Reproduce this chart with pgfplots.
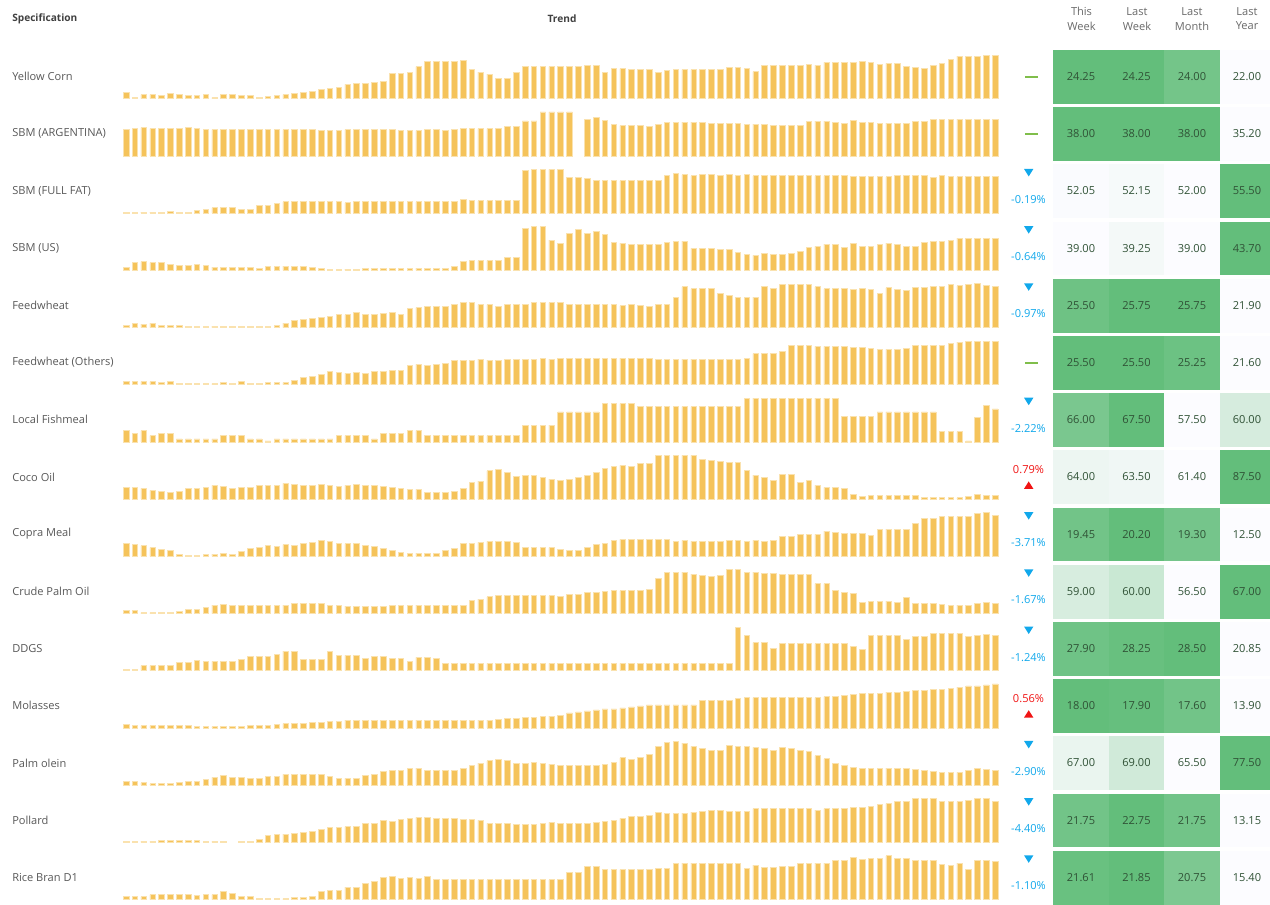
\documentclass[border=0pt]{standalone}
\usepackage{fontspec}
\setmainfont{Open Sans}
\usepackage{pgfplots}
\pgfplotsset{compat=1.18}
\usepackage{pgfplotstable}

\definecolor{barc}{RGB}{245,195,90}
\definecolor{baredge}{RGB}{250,226,175}
\definecolor{hgreen}{RGB}{99,190,123}
\definecolor{hwhite}{RGB}{252,252,255}
\definecolor{celltext}{RGB}{48,82,54}
\definecolor{labeltext}{RGB}{88,88,88}
\definecolor{headtext}{RGB}{64,64,64}
\definecolor{headgray}{RGB}{105,105,105}
\definecolor{downc}{RGB}{17,168,235}
\definecolor{upc}{RGB}{240,20,20}
\definecolor{flatc}{RGB}{128,190,75}

\newcommand\sdata[2]{\pgfplotstableread[row sep=\\]{h\\#2}#1}

% sparkline bar heights (pixels of the reference, 44 = tallest)
\sdata\tA{6\\1\\4\\4\\3\\5\\4\\3\\3\\4\\
1\\4\\4\\3\\3\\1\\2\\3\\4\\5\\
6\\7\\9\\10\\11\\14.3\\15.3\\15.3\\16.3\\17.3\\
25.3\\25.3\\26.3\\32\\37\\37\\37\\37\\38.3\\29.7\\
26.7\\24.7\\20.3\\20.3\\26.7\\32\\32\\32\\32\\32\\
32.7\\32.7\\33.7\\33.7\\26\\30\\30\\29\\29\\29\\
26\\28\\29\\29\\29\\29\\29\\29\\31.3\\31.3\\
30.3\\27\\33.3\\33.3\\33.3\\33.3\\33.3\\34.3\\33.3\\36.3\\
36.3\\36.3\\36.3\\37.3\\36.3\\34.3\\35.3\\35.3\\32.3\\31.3\\
30.3\\33.3\\35.3\\39.7\\42.7\\42.7\\42.7\\43.7\\43.7\\}
\sdata\tB{26.3\\27.3\\28.3\\27.3\\27.3\\27.3\\27.3\\28.3\\27.3\\26.3\\
26.3\\26.3\\26.3\\26.3\\26.3\\26.3\\26.3\\26.3\\26.3\\26.3\\
26.3\\26.3\\25.3\\25.3\\25.3\\26.3\\26.3\\26.3\\26.3\\26.3\\
26.3\\25.3\\25.3\\25.3\\26.3\\26.3\\25.3\\26.3\\27.3\\27.3\\
27.3\\27.3\\27.3\\29.3\\29.3\\35\\35\\44\\44\\44\\
44\\nan\\36.7\\38.7\\35.7\\31.7\\30.3\\30.3\\30.3\\29.3\\
31.7\\33.7\\33.7\\33.7\\33.7\\33.7\\32.7\\32.7\\32.7\\32.7\\
31.7\\31.7\\31.7\\30.3\\30.3\\30.3\\30.3\\34.7\\34.7\\34.7\\
33.7\\32.7\\35.7\\33.7\\33.7\\32.7\\32.7\\32.7\\32.7\\34.7\\
34.7\\36.7\\36.7\\36.7\\36.7\\36.7\\36.7\\36.7\\36.7\\}
\sdata\tC{1\\1\\1\\1\\1\\2\\1\\1\\3\\4\\
5.3\\5.3\\5.3\\4\\4\\7.3\\7.3\\9.3\\11.3\\11.3\\
11.3\\11.3\\11.3\\11.3\\11.3\\10.3\\11.3\\11.3\\11.3\\11.3\\
11.3\\11.3\\11.3\\11.3\\11.3\\11.3\\11.3\\11.3\\13.3\\12.3\\
12.3\\12.3\\12.3\\12.3\\12.3\\42.7\\43.7\\43.7\\43.7\\43.7\\
35.3\\35.3\\34.3\\32.3\\32.3\\32.3\\32.3\\32.3\\32.3\\32.3\\
32.3\\37.3\\39.3\\38.3\\37.3\\38.3\\38.3\\37.3\\38.3\\37.3\\
38.3\\37.3\\37.3\\37.3\\37.3\\37.3\\37.3\\37.3\\37.3\\37.3\\
37.3\\37.3\\36.3\\36.3\\36.3\\36.3\\36.3\\37.3\\37.3\\37.3\\
37.3\\35.3\\37.3\\36.3\\36.3\\36.3\\36.3\\36.3\\36.3\\}
\sdata\tD{3.3\\7.7\\8.7\\7.7\\7.7\\6.3\\5.3\\5.3\\6.3\\5.3\\
3.3\\3.3\\3.3\\3.3\\3.3\\2.3\\4.3\\4.3\\4.3\\4.3\\
4.3\\3.3\\2.3\\1.3\\1.3\\1.3\\1.3\\2.3\\2.3\\2.3\\
2.3\\2.3\\2.3\\2.3\\2.3\\2.3\\2.3\\4.3\\8.7\\9.7\\
9.7\\9.7\\9.7\\12.7\\12.7\\42\\44\\44\\30.3\\27.3\\
37\\41\\37\\39\\36\\28.3\\27.3\\26.3\\26.3\\26.3\\
26.3\\28.3\\29.3\\29.3\\22\\22\\22\\21\\21\\18\\
16\\15\\17\\16\\16\\17\\19\\23\\24\\26.3\\
26.3\\23\\27.3\\24\\24\\26.3\\27.3\\26.3\\24\\24\\
28.3\\29.3\\29.3\\30.3\\32.3\\32.3\\32.3\\32.3\\32.3\\}
\sdata\tE{2.3\\4.3\\3.3\\4.3\\2.3\\2.3\\2.3\\1.3\\1.3\\1.3\\
1.3\\1.3\\1.3\\1.3\\1.3\\1.3\\1.3\\2.3\\4.3\\6.7\\
7.7\\8.7\\9.7\\10.7\\12.7\\12.7\\14.7\\12.7\\12.7\\13.7\\
14.7\\12.7\\19\\20\\21\\21\\21\\23\\25\\25\\
23\\23\\21\\23\\23\\23\\25\\25\\25\\25\\
23\\23\\23\\23\\23\\23\\21.7\\23\\21.7\\20.7\\
23\\23\\30.3\\40.7\\38.7\\38.7\\38.7\\34.3\\32.3\\30.3\\
30.3\\30.3\\40.7\\38.7\\42.7\\42.7\\42.7\\42.7\\40.7\\38.7\\
38.7\\38.7\\37.7\\38.7\\37.7\\34.3\\39.7\\37.7\\36.7\\39.7\\
39.7\\40.7\\40.7\\42.7\\41.7\\42.7\\43.7\\41.7\\40.7\\}
\sdata\tF{3\\3\\3\\3\\2\\3\\1\\1\\1\\1\\
1\\2\\1\\3\\1\\1\\2\\2\\2\\4.3\\
7.3\\8.3\\10.3\\13.3\\12.3\\11.3\\12.3\\11.3\\13.3\\13.3\\
14.3\\14.3\\19.3\\20.3\\19.3\\20.3\\21.3\\24.7\\24.7\\24.7\\
25.7\\24.7\\24.7\\25.7\\25.7\\25.7\\25.7\\26.7\\25.7\\26.7\\
26.7\\26.7\\26.7\\26.7\\26.7\\26.7\\26.7\\26.7\\26.7\\26.7\\
25.7\\25.7\\25.7\\25.7\\25.7\\25.7\\25.7\\25.7\\25.7\\25.7\\
26.7\\31\\31\\31\\33.3\\39.3\\39.3\\39.3\\38.3\\38.3\\
38.3\\38.3\\37.3\\37.3\\36.3\\35.3\\35.3\\35.3\\36.3\\39.3\\
39.3\\39.3\\39.3\\41.3\\42.7\\43.7\\43.7\\43.7\\43.7\\}
\sdata\tG{11.3\\8.3\\11.3\\6.3\\8.3\\8.3\\3\\3\\3\\3\\
3\\6.3\\6.3\\6.3\\3\\3\\1\\3\\3\\3\\
3\\3\\3\\3\\6.3\\6.3\\6.3\\6.3\\3\\8.3\\
8.3\\8.3\\11.3\\11.3\\6.3\\6.3\\6.3\\6.3\\6.3\\6.3\\
6.3\\6.3\\6.3\\6.3\\6.3\\16.7\\16.7\\16.7\\16.7\\30\\
30\\30\\30\\30\\38.3\\38.3\\38.3\\38.3\\35.3\\35.3\\
35.3\\35.3\\35.3\\35.3\\35.3\\35.3\\35.3\\35.3\\35.3\\35.3\\
43.7\\43.7\\43.7\\43.7\\43.7\\43.7\\43.7\\43.7\\43.7\\43.7\\
43.7\\25.7\\25.7\\25.7\\25.7\\30\\30\\30\\30\\30\\
30\\30\\10.3\\10.3\\10.3\\1\\24.7\\36.3\\33\\}
\sdata\tH{11.7\\11.7\\10.7\\8.7\\7.7\\6.3\\7.7\\10.7\\10.7\\11.7\\
13.7\\12.7\\10.7\\11.7\\11.7\\13.7\\13.7\\13.7\\15.7\\14.7\\
13.7\\13.7\\14.7\\13.7\\12.7\\13.7\\14.7\\13.7\\13.7\\12.7\\
11.7\\10.7\\9.7\\9.7\\6.3\\6.3\\6.3\\7.7\\10.7\\17\\
18\\28.3\\29.3\\26.3\\23\\24\\24\\22\\20\\19\\
20\\22\\24\\26.3\\30.3\\32.7\\33.7\\32.7\\35.7\\35.7\\
43.7\\43.7\\43.7\\43.7\\43.7\\39.7\\38.7\\37.7\\36.7\\36.7\\
28.3\\24\\22\\19\\25\\25\\17\\19\\13.7\\11.7\\
11.7\\10.7\\4.3\\2.3\\3.3\\3.3\\3.3\\3.3\\3.3\\3.3\\
1.3\\1.3\\1.3\\1.3\\1.3\\2.3\\4.3\\3.3\\3.3\\}
\sdata\tI{13\\11.7\\10.7\\8.7\\6.7\\5.7\\2.3\\1.3\\1.3\\2.3\\
2.3\\3.3\\2.3\\4.7\\7.7\\8.7\\10.7\\9.7\\11.7\\10.7\\
12.7\\14\\16\\15\\12.7\\12.7\\12.7\\10.7\\9.7\\7.7\\
5.7\\4.3\\3.3\\3.3\\3.3\\3.3\\5.7\\7.7\\12.7\\12.7\\
14\\15\\15\\15\\14\\8.7\\8.7\\8.7\\8.7\\6.7\\
5.7\\5.7\\8.7\\11.7\\12.7\\16\\17\\17\\17\\17\\
17\\17\\15\\16\\15\\15\\15\\15\\16\\16\\
15\\16\\15\\16\\20\\20\\22\\22\\22\\25.3\\
24.3\\23\\23\\23\\21\\27.3\\27.3\\27.3\\27.3\\32.7\\
37.7\\37.7\\39.7\\39.7\\39.7\\39.7\\43\\44\\40.7\\}
\sdata\tJ{3\\3\\1\\1\\1\\1\\2\\4\\4\\6.3\\
8.3\\9.3\\8.3\\8.3\\8.3\\8.3\\8.3\\8.3\\8.3\\10.3\\
10.3\\10.3\\10.3\\8.3\\8.3\\7.3\\7.3\\7.3\\7.3\\7.3\\
8.3\\8.3\\8.3\\8.3\\8.3\\8.3\\8.3\\8.3\\8.3\\13.3\\
14.3\\16.7\\17.7\\17.7\\17.7\\17.7\\17.7\\17.7\\17.7\\16.7\\
18.7\\18.7\\20.7\\20.7\\21.7\\22.7\\22.7\\22.7\\22.7\\23.7\\
35.3\\41.3\\41.3\\41.3\\39.3\\38.3\\37.3\\38.3\\43.7\\43.7\\
41.3\\41.3\\40.3\\40.3\\39.3\\39.3\\39.3\\39.3\\30\\30\\
22.7\\20.7\\19.7\\11.3\\12.3\\12.3\\12.3\\11.3\\15.7\\10.3\\
10.3\\10.3\\9.3\\8.3\\8.3\\8.3\\10.3\\11.3\\10.3\\}
\sdata\tK{1\\1\\5\\5\\5\\5\\8.3\\8.3\\10.3\\9.3\\
9.3\\9.3\\9.3\\11.3\\14.3\\14.3\\14.3\\16.7\\19.7\\19.7\\
11.3\\11.3\\11.3\\19.7\\15.3\\15.3\\15.3\\12.3\\14.3\\14.3\\
12.3\\12.3\\9.3\\13.3\\13.3\\12.3\\7.3\\7.3\\7.3\\7.3\\
7.3\\7.3\\7.3\\7.3\\7.3\\7.3\\7.3\\7.3\\7.3\\7.3\\
7.3\\7.3\\7.3\\7.3\\7.3\\7.3\\7.3\\7.3\\7.3\\7.3\\
7.3\\7.3\\7.3\\7.3\\7.3\\7.3\\7.3\\7.3\\7.3\\43.3\\
35.3\\28\\28\\22.7\\27\\27\\27\\27\\27\\27\\
27\\27\\24.7\\21.7\\35.3\\35.3\\35.3\\35.3\\31\\34.3\\
34.3\\37.3\\37.3\\37.3\\37.3\\34.3\\35.3\\36.3\\35.3\\}
\sdata\tL{3.3\\2.3\\2.3\\2.3\\2.3\\2.3\\2.3\\2.3\\1.3\\1.3\\
1.3\\1.3\\1.3\\1.3\\2.3\\2.3\\2.3\\3.3\\4.3\\4.3\\
4.3\\5.7\\5.7\\6.7\\6.7\\7.7\\7.7\\7.7\\7.7\\7.7\\
7.7\\7.7\\7.7\\7.7\\7.7\\7.7\\7.7\\7.7\\7.7\\7.7\\
7.7\\7.7\\8.7\\9.7\\9.7\\10.7\\10.7\\11.7\\11.7\\12.7\\
15\\16\\17\\18\\19\\19\\20\\21\\22\\23\\
23\\23\\23\\23\\23\\27.3\\27.3\\27.3\\27.3\\29.3\\
30.3\\30.3\\30.3\\30.3\\30.3\\30.3\\30.3\\30.3\\30.3\\31.3\\
31.3\\32.7\\33.7\\34.7\\34.7\\34.7\\35.7\\35.7\\36.7\\37.7\\
37.7\\38.7\\38.7\\39.7\\40.7\\42\\42\\43\\44\\}
\sdata\tM{3.3\\3.3\\2.3\\1.3\\1.3\\1.3\\2.3\\3.3\\3.3\\5.3\\
7.7\\9.7\\7.7\\7.7\\6.7\\6.7\\8.7\\8.7\\10.7\\10.7\\
10.7\\10.7\\10.7\\8.7\\6.7\\6.7\\6.7\\9.7\\10.7\\13.7\\
15\\15\\17\\17\\15\\15\\15\\15\\17\\20\\
22\\24.3\\25.3\\24.3\\22\\22\\23\\22\\21\\20\\
20\\20\\20\\20\\21\\23\\27.3\\25.3\\27.3\\30.3\\
38.7\\43\\44\\42\\38.7\\36.7\\34.7\\34.7\\39.7\\38.7\\
38.7\\37.7\\36.7\\34.7\\37.7\\36.7\\34.7\\33.7\\29.3\\26.3\\
22\\20\\18\\17\\17\\17\\17\\17\\17\\16\\
15\\13.7\\12.7\\12.7\\12.7\\15\\17\\16\\15\\}
\sdata\tN{1\\1\\1\\1\\2\\2\\2\\2\\2\\1\\
1\\1\\nan\\1\\1\\3.3\\7.3\\8.3\\8.3\\9.3\\
10.3\\11.3\\12.7\\14.7\\14.7\\15.7\\15.7\\19\\19\\22\\
21\\23\\24\\25\\25\\24\\24\\24\\23\\23\\
22\\19\\19\\19\\18\\18\\18\\19\\20\\19\\
19\\19\\19\\20\\21\\22\\24\\26.3\\26.3\\27.3\\
30.3\\29.3\\29.3\\29.3\\30.3\\31.3\\32.3\\32.3\\31.3\\31.3\\
31.3\\33.7\\33.7\\33.7\\33.7\\33.7\\33.7\\33.7\\32.3\\33.7\\
33.7\\33.7\\34.7\\34.7\\35.7\\37.7\\38.7\\40.7\\40.7\\44\\
44\\44\\40.7\\40.7\\40.7\\41.7\\44\\44\\40.7\\}
\sdata\tO{3\\3\\3\\5\\5\\5\\5\\5\\4\\5\\
5\\8.3\\6.3\\3\\3\\1\\1\\1\\1\\2\\
2\\3\\8.3\\9.3\\9.3\\12.3\\12.3\\15.7\\17.7\\21.7\\
22.7\\20.7\\21.7\\20.7\\22.7\\19.7\\19.7\\19.7\\19.7\\19.7\\
19.7\\19.7\\19.7\\19.7\\19.7\\19.7\\19.7\\19.7\\19.7\\19.7\\
27\\27\\33.3\\33.3\\30\\30\\30\\30\\30\\30\\
31\\31\\36.3\\36.3\\36.3\\36.3\\36.3\\36.3\\36.3\\36.3\\
31\\34.3\\32\\32\\33\\33\\36.3\\36.3\\36.3\\36.3\\
39.3\\39.3\\42.3\\40.3\\41.3\\41.3\\43.7\\41.3\\41.3\\39.3\\
39.3\\39.3\\35.3\\34.3\\36.3\\30\\39.3\\39.3\\38.3\\}

\pgfplotsset{spark/.style={
  scale only axis, hide axis, clip=false,
  width=658.5pt, height=33pt,
  xmin=-0.5, xmax=98.5, ymin=0, ymax=44,
  anchor=south west, ybar, bar width=4.2pt}}

\newcommand\spark[2]{%
  \pgfmathsetmacro\by{-(98.7+57.2*#1)*0.75}%
  \begin{axis}[spark, at={(91.2pt,\by pt)}]
    \addplot[fill=barc, draw=baredge, line width=0.5pt]
      table[x expr=\coordindex, y=h] {#2};
  \end{axis}}

\newcommand\fs{\fontsize{8.3}{9.9}\selectfont}

\begin{document}
\begin{tikzpicture}
\path[use as bounding box] (0,0) rectangle (952.5pt,-678pt);
\begin{scope}[x=0.75pt,y=-0.75pt]
  % headers
  \node[anchor=west, inner xsep=0pt, text=headtext, font=\fontsize{7.6}{9}\selectfont\bfseries] at (12,19) {Specification};
  \node[text=headtext, font=\fontsize{7.6}{9}\selectfont\bfseries] at (562,19) {Trend};
  \foreach \hx/\ha/\hb in {1081.5/This/Week, 1137/Last/Week, 1192/Last/Month, 1247/Last/Year}{
    \node[text=headgray, font=\fs] at (\hx,11.7) {\ha};
    \node[text=headgray, font=\fs] at (\hx,26) {\hb};
  }
  % rows: index/name/values/green shares/indicator (0 flat, 1 down, 2 up)/change
  \foreach \k/\name/\va/\vb/\vc/\vd/\pa/\pb/\pc/\pd/\ind/\pct in {
    0/Yellow Corn/24.25/24.25/24.00/22.00/100/100/89/0/0/0,
    1/SBM (ARGENTINA)/38.00/38.00/38.00/35.20/100/100/100/0/0/0,
    2/SBM (FULL FAT)/52.05/52.15/52.00/55.50/1/4/0/100/1/-0.19,
    3/SBM (US)/39.00/39.25/39.00/43.70/0/5/0/100/1/-0.64,
    4/Feedwheat/25.50/25.75/25.75/21.90/93/100/100/0/1/-0.97,
    5/Feedwheat (Others)/25.50/25.50/25.25/21.60/100/100/94/0/0/0,
    6/Local Fishmeal/66.00/67.50/57.50/60.00/85/100/0/25/1/-2.22,
    7/Coco Oil/64.00/63.50/61.40/87.50/10/8/0/100/2/0.79,
    8/Copra Meal/19.45/20.20/19.30/12.50/90/100/88/0/1/-3.71,
    9/Crude Palm Oil/59.00/60.00/56.50/67.00/24/33/0/100/1/-1.67,
    10/DDGS/27.90/28.25/28.50/20.85/92/97/100/0/1/-1.24,
    11/Molasses/18.00/17.90/17.60/13.90/100/98/90/0/2/0.56,
    12/Palm olein/67.00/69.00/65.50/77.50/12/29/0/100/1/-2.90,
    13/Pollard/21.75/22.75/21.75/13.15/90/100/90/0/1/-4.40,
    14/Rice Bran D1/21.61/21.85/20.75/15.40/96/100/83/0/1/-1.10}{
    \pgfmathsetmacro\cy{76.5+57.2*\k}
    \pgfmathsetmacro\ct{50+57.2*\k}
    \pgfmathsetmacro\cb{\ct+53.7}
    \node[anchor=west, inner xsep=0pt, text=labeltext, font=\fs] at (12,\cy) {\name};
    \fill[hgreen!\pa!hwhite] (1053,\ct) rectangle (1108.5,\cb);
    \fill[hgreen!\pb!hwhite] (1108.5,\ct) rectangle (1164,\cb);
    \fill[hgreen!\pc!hwhite] (1164,\ct) rectangle (1219.5,\cb);
    \fill[hgreen!\pd!hwhite] (1219.5,\ct) rectangle (1276,\cb);
    \node[text=celltext, font=\fs] at (1081,\cy) {\va};
    \node[text=celltext, font=\fs] at (1136.5,\cy) {\vb};
    \node[text=celltext, font=\fs] at (1192,\cy) {\vc};
    \node[text=celltext, font=\fs] at (1247,\cy) {\vd};
    \ifcase\ind
      \draw[flatc, line width=1.5pt] (1025,\cy) -- (1038,\cy);
    \or
      \fill[downc] (1024,\cy-22) -- (1033.4,\cy-22) -- (1028.7,\cy-14.5) -- cycle;
      \node[text=downc, font=\fs] at (1028.5,\cy+8.7) {\pct\%};
    \or
      \node[text=upc, font=\fs] at (1028.5,\cy-7.2) {\pct\%};
      \fill[upc] (1024,\cy+11.9) -- (1033.4,\cy+11.9) -- (1028.7,\cy+4.5) -- cycle;
    \fi
  }
\end{scope}
\spark{0}{\tA}
\spark{1}{\tB}
\spark{2}{\tC}
\spark{3}{\tD}
\spark{4}{\tE}
\spark{5}{\tF}
\spark{6}{\tG}
\spark{7}{\tH}
\spark{8}{\tI}
\spark{9}{\tJ}
\spark{10}{\tK}
\spark{11}{\tL}
\spark{12}{\tM}
\spark{13}{\tN}
\spark{14}{\tO}
\end{tikzpicture}
\end{document}
